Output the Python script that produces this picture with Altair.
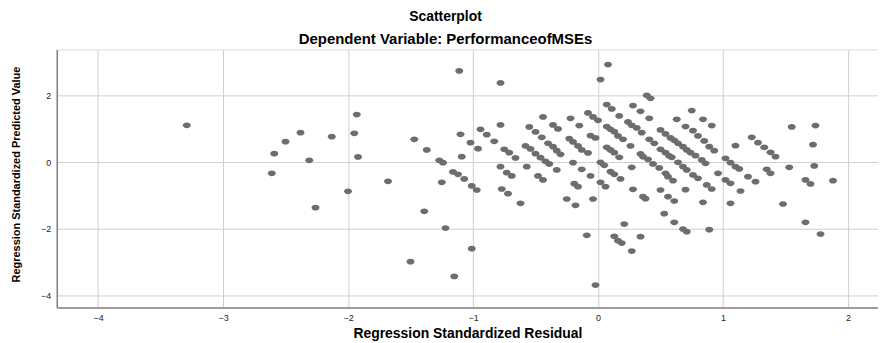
import altair as alt
import pandas as pd

# Regression Standardized Residual (x) and Regression Standardized Predicted Value (y)
resid = [
    -3.29, -2.38, -2.50, -2.59, -2.61, -2.31, -2.26, -2.13, -1.93, -1.95,
    -1.92, -2.00, -1.68, -1.47, -1.37, -1.39, -1.50, -1.27, -1.24, -1.25,
    -1.22, -1.16, -1.12, -1.07, -1.15, -1.11, -1.10, -1.09, -1.02, -0.96,
    -1.01, -1.01, -0.97, -0.94,
    -0.89, -0.83, -0.78, -0.78, -0.75, -0.71, -0.66, -0.78, -0.73, -0.69,
    -0.77, -0.72, -0.62, -0.57, -0.55, -0.50, -0.45, -0.44, -0.58, -0.54,
    -0.50, -0.46, -0.42, -0.39, -0.48, -0.44, -0.36, -0.32, -0.40, -0.36,
    -0.33, -0.30, -0.33, -0.22, -0.15, -0.23, -0.20, -0.16, -0.13, -0.08,
    -0.20, -0.13, -0.19, -0.16, -0.25, -0.18, -0.06, -0.04, -0.09, -0.02,
    -0.08, -0.04, 0.00, -0.06, -0.02, 0.02, 0.02, 0.02,
    0.08, 0.07, 0.11, 0.07, 0.10, 0.13, 0.17, 0.24, 0.27, 0.31,
    0.35, 0.28, 0.34, 0.39, 0.42, 0.41, 0.16, 0.20, 0.26, 0.07,
    0.10, 0.13, 0.17, 0.05, 0.10, 0.13, 0.18, 0.06, 0.21, 0.13,
    0.16, 0.19, 0.27, 0.34, 0.27, 0.28, 0.36, 0.38, 0.34, 0.36,
    0.40, 0.41, 0.45, 0.44, 0.49, 0.50, 0.54, 0.58, 0.61, 0.50,
    0.54, 0.57, 0.59, 0.54, 0.56, 0.60, 0.50, 0.56, 0.61, 0.53,
    0.61, 0.68, 0.71, 0.63, 0.70, 0.76, 0.80, 0.75, 0.64, 0.68,
    0.71, 0.74, 0.78, 0.64, 0.68, 0.71, 0.76, 0.80, 0.70, 0.84,
    0.91, 0.85, 0.89, 0.93, 0.83, 0.86, 0.87, 0.91, 0.84, 0.89,
    0.96,
    1.02, 1.06, 1.10, 1.13, 1.10, 1.02, 1.06, 1.14, 1.06, 1.20,
    1.26, 1.23, 1.28, 1.33, 1.38, 1.42, 1.35, 1.38, 1.48, 1.53,
    1.55, 1.74, 1.72, 1.73, 1.66, 1.70, 1.66, 1.78, 1.88,
]
predicted = [
    1.11, 0.89, 0.62, 0.26, -0.33, 0.06, -1.36, 0.77, 1.43, 0.87,
    0.16, -0.87, -0.57, 0.69, 0.37, -1.47, -2.98, 0.06, -0.01, -0.60,
    -1.97, -0.29, -0.36, -0.50, -3.42, 2.74, 0.84, 0.17, 0.59, 0.41,
    -2.59, -0.71, -0.83, 0.99,
    0.83, 0.63, 2.38, 1.12, 0.39, 0.29, 0.13, -0.13, -0.31, -0.41,
    -0.80, -0.94, -1.23, -0.13, 1.06, 0.91, 0.75, 1.36, 0.49, 0.40,
    0.26, 0.14, 0.03, -0.05, -0.41, -0.53, 1.12, 1.00, 0.57, 0.47,
    0.35, 0.24, -0.23, 1.32, 1.10, 0.71, 0.61, 0.49, 0.37, 0.28,
    -0.01, -0.21, -0.64, -0.73, -1.10, -1.29, -0.41, -1.10, -2.19, -3.68,
    1.48, 1.36, 1.26, 0.80, 0.73, 0.00, -0.60, 2.48,
    2.93, 1.73, 1.60, 1.07, 0.99, 0.92, 1.39, 1.21, 1.11, 1.03,
    0.89, 1.70, 1.53, 2.01, 1.92, 1.32, 0.79, 0.69, 0.49, 0.45,
    0.37, 0.29, 0.15, -0.09, -0.28, -0.36, -0.50, -0.73, -1.85, -2.22,
    -2.35, -2.42, -2.66, -2.23, -0.15, -0.81, -1.03, -1.09, 0.25, 0.17,
    0.09, 0.69, 0.57, -0.05, -0.17, 0.97, 0.85, 0.73, 0.66, 0.39,
    0.29, 0.19, 0.15, -0.33, -0.43, -0.55, -0.83, -1.03, -1.16, -1.54,
    -1.80, -2.00, -2.08, 1.29, 1.07, 0.95, 0.79, 1.55, 0.57, 0.47,
    0.37, 0.29, 0.20, 0.00, -0.13, -0.23, -0.38, -0.48, -0.82, 1.29,
    1.10, 0.64, 0.47, 0.35, 0.07, -0.03, -0.68, -0.80, -1.20, -2.02,
    -0.33,
    0.12, -0.01, -0.13, -0.20, 0.50, -0.53, -0.63, -0.86, -1.23, -0.43,
    -0.58, 0.75, 0.59, 0.45, 0.30, 0.17, -0.21, -0.33, -1.25, -0.15,
    1.06, 1.10, 0.53, -0.11, -0.53, -0.65, -1.80, -2.15, -0.55,
]

x_ticks = [-4, -3, -2, -1, 0, 1, 2]
y_ticks = [-4, -2, 0, 2]

df = pd.DataFrame({"resid": resid, "pred": predicted})

FONT = "Liberation Sans"
ellipse = "M-1,0A1,0.72,0,1,1,1,0A1,0.72,0,1,1,-1,0Z"

chart = (
    alt.Chart(df)
    .mark_point(shape=ellipse, filled=True, size=64, color="#6d6d6d", opacity=1)
    .encode(
        x=alt.X(
            "resid:Q",
            scale=alt.Scale(domain=[-4.33, 2.24], nice=False, zero=False),
            axis=alt.Axis(
                title="Regression Standardized Residual",
                values=x_ticks,
                ticks=False,
                labelPadding=6,
                labelFontSize=9,
                labelFont=FONT,
                labelColor="#222222",
                titleFont=FONT,
                titleFontSize=14,
                titleFontWeight="bold",
                titleColor="#000000",
                titleY=30,
                titleBaseline="alphabetic",
                grid=True,
                gridColor="#cfcfcf",
                gridWidth=1,
                domainColor="#808080",
                domainWidth=1.5,
            ),
        ),
        y=alt.Y(
            "pred:Q",
            scale=alt.Scale(domain=[-4.35, 3.38], nice=False, zero=False),
            axis=alt.Axis(
                title="Regression Standardized Predicted Value",
                values=y_ticks,
                ticks=False,
                labelPadding=6,
                labelFontSize=9,
                labelFont=FONT,
                labelColor="#222222",
                titleFont=FONT,
                titleFontSize=11,
                titleFontWeight="bold",
                titleColor="#000000",
                titleAngle=-90,
                titleX=-40,
                titleY=125,
                titleAlign="center",
                titleBaseline="middle",
                grid=True,
                gridColor="#cfcfcf",
                gridWidth=1,
                domainColor="#808080",
                domainWidth=1.5,
            ),
        ),
    )
    .properties(
        width=825,
        height=259,
        autosize=alt.AutoSizeParams(type="none"),
        padding={"left": 49, "top": 41, "right": 0, "bottom": 35},
        title=alt.TitleParams(
            text="Scatterplot",
            subtitle="Dependent Variable: PerformanceofMSEs",
            anchor="middle",
            dx=-22,
            offset=3,
            font=FONT,
            fontSize=14,
            fontWeight="bold",
            color="#000000",
            subtitleFont=FONT,
            subtitleFontSize=15,
            subtitleFontWeight="bold",
            subtitleColor="#000000",
            subtitlePadding=8,
        ),
    )
    .configure_view(stroke=None)
    .configure(background="white")
)

chart.save("out.html", embed_options={"renderer": "svg", "actions": False})
